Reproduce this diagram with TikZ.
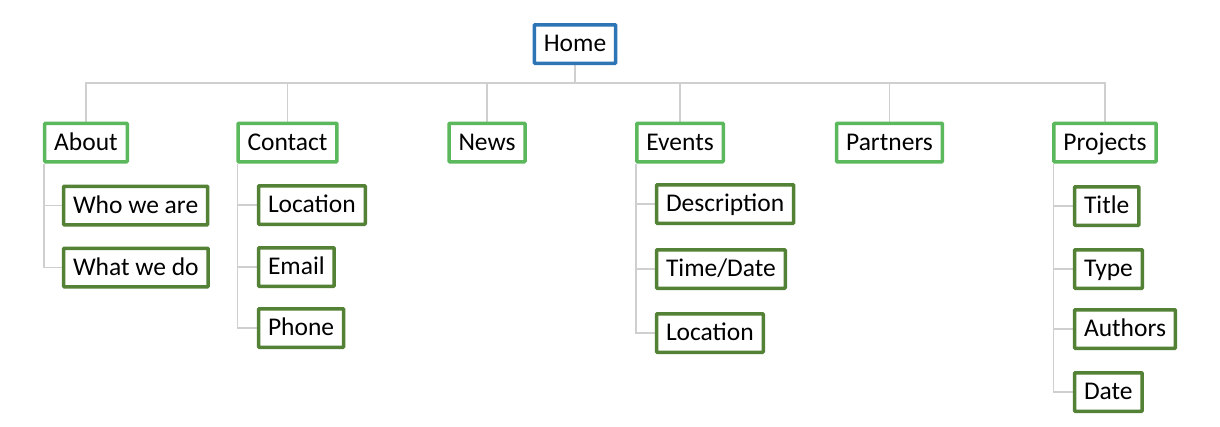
\documentclass[tikz,border=0pt]{standalone}
\usepackage{fontspec}
\setmainfont{Carlito}
\usetikzlibrary{backgrounds}
\definecolor{homeblue}{HTML}{2E75B6}
\definecolor{lightgreen}{HTML}{5CB85C}
\definecolor{darkgreen}{HTML}{538135}
\definecolor{conngray}{HTML}{CFCFCF}
\tikzset{
  box/.style={draw, fill=white, line width=3.5pt, inner xsep=9.5pt, inner ysep=8.25pt,
    text height=18.5pt, text depth=3.5pt, font=\fontsize{25.5}{29}\selectfont, rounded corners=0.8pt},
  homebox/.style={box, draw=homeblue},
  topbox/.style={box, draw=lightgreen},
  subbox/.style={box, draw=darkgreen, anchor=west},
  conn/.style={draw=conngray, line width=1.1pt}
}
\begin{document}
\begin{tikzpicture}[x=1pt,y=-1pt]
\useasboundingbox (0,0) rectangle (1220,426);
\node[homebox] (home) at (575,44) {Home};
\node[topbox] (about) at (86,142.5) {About};
\node[topbox] (contact) at (287.5,142.5) {Contact};
\node[topbox] (news) at (487,142.5) {News};
\node[topbox] (events) at (680,142.5) {Events};
\node[topbox] (partners) at (889.5,142.5) {Partners};
\node[topbox] (projects) at (1105,142.5) {Projects};
\node[subbox] (who) at (61.75,205.5) {Who we are};
\node[subbox] (what) at (61.75,267.5) {What we do};
\node[subbox] (cloc) at (256.75,205) {Location};
\node[subbox] (email) at (256.75,267) {Email};
\node[subbox] (phone) at (256.75,328) {Phone};
\node[subbox] (desc) at (654.75,204) {Description};
\node[subbox] (time) at (654.75,269) {Time/Date};
\node[subbox] (eloc) at (654.75,333) {Location};
\node[subbox] (title) at (1072.75,206) {Title};
\node[subbox] (type) at (1072.75,269) {Type};
\node[subbox] (authors) at (1072.75,329) {Authors};
\node[subbox] (date) at (1072.75,392) {Date};
\coordinate (bus) at (0,83);
\begin{scope}[on background layer]
\draw[conn] (home.south) -- (home.south |- bus);
\draw[conn] (about.north) -- (about.north |- bus) -- (projects.north |- bus) -- (projects.north);
\foreach \n in {contact,news,events,partners}{
  \draw[conn] (\n.north) -- (\n.north |- bus);
}
\foreach \p/\c in {about/who,about/what,contact/cloc,contact/email,contact/phone,events/desc,events/time,events/eloc,projects/title,projects/type,projects/authors,projects/date}{
  \draw[conn] ([xshift=1pt]\p.south west) |- (\c.west);
}
\end{scope}
\end{tikzpicture}
\end{document}
